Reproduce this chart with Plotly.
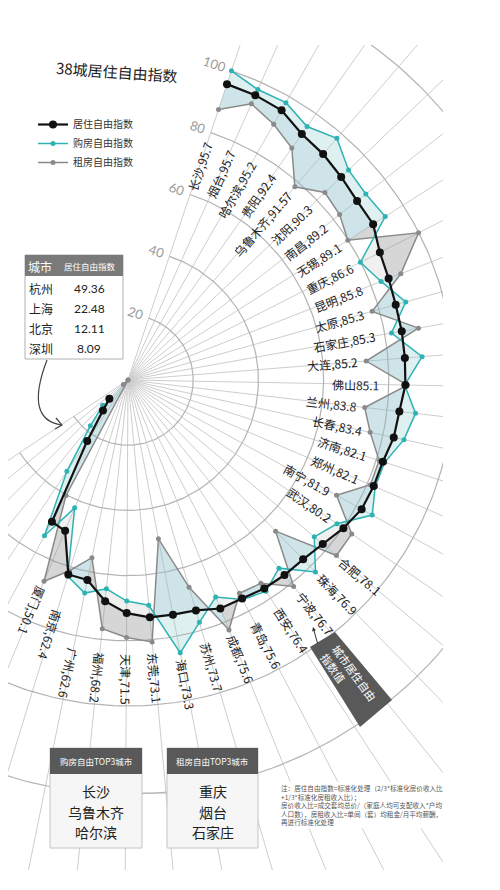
import numpy as np
import plotly.graph_objects as go

# ---- data ----
cities = ["长沙", "烟台", "哈尔滨", "贵阳", "乌鲁木齐", "沈阳", "南昌", "无锡", "重庆", "昆明",
          "太原", "石家庄", "大连", "佛山", "兰州", "长春", "济南", "郑州", "南宁", "武汉",
          "合肥", "珠海", "宁波", "西安", "青岛", "成都", "苏州", "海口", "东莞", "天津",
          "福州", "广州", "南京", "厦门", "杭州", "上海", "北京", "深圳"]
live_idx = [95.7, 95.7, 95.2, 92.4, 91.57, 90.3, 89.2, 89.1, 86.6, 85.8,
            85.3, 85.3, 85.2, 85.1, 83.8, 83.4, 82.1, 82.1, 81.9, 80.2,
            78.1, 76.9, 76.7, 76.4, 75.6, 75.6, 73.7, 73.3, 73.1, 71.5,
            68.2, 62.6, 62.4, 50.1, 49.36, 22.48, 12.11, 8.09]
buy_idx = [100.0, 97.6, 97.9, 95.2, 98.0, 93.4, 92.6, 93.5, 79.9, 83.3,
           88.5, 82.1, 90.5, 84.9, 88.8, 86.6, 82.7, 82.6, 85.6, 77.8,
           74.7, 82.3, 74.0, 77.4, 76.0, 71.8, 77.5, 85.2, 69.4, 67.8,
           64.4, 66.7, 63.0, 42.5, 54.2, 33.7, 18.2, 11.0]
rent_idx = [87.5, 92.8, 90.3, 87.1, 78.3, 83.4, 82.4, 79.9, 99.9, 89.8,
            77.8, 90.5, 73.3, 85.7, 73.1, 76.0, 80.9, 81.0, 73.1, 83.3,
            83.6, 64.8, 81.2, 74.5, 73.8, 82.7, 66.3, 49.6, 80.7, 79.0,
            76.7, 55.6, 61.2, 66.9, 40.2, 0.0, 0.0, 2.0]
radial_ticks = [20, 40, 60, 80, 100]
buy_top3 = ["长沙", "乌鲁木齐", "哈尔滨"]
rent_top3 = ["重庆", "烟台", "石家庄"]
n_inner_labels = 20      # 长沙 .. 武汉 labelled inside the ring
n_labelled = 34          # last four cities go into the table instead

# ---- geometry / style (page pixels; the page body has an 8px margin) ----
OFF = 8
FIG_W, FIG_H = 500 - OFF, 890 - OFF
THETA0, STEP = 18.5, 5.58          # degrees clockwise from north
SCALE = 3.26                        # px per index point
CX, CY = 128, 380                   # centre
CLIP_R, CLIP_T, CLIP_B = 443, 45, 870
CJK = "Noto Sans CJK SC"
TEAL = "#2fb2b4"
GREY = "#8a8a8a"

n = len(cities)
theta = THETA0 + STEP * np.arange(n)
live = np.array(live_idx)
buy = np.array(buy_idx)
rent = np.array(rent_idx)


def to_xy(r, deg):
    t = np.deg2rad(deg)
    return np.asarray(r) * np.sin(t), np.asarray(r) * np.cos(t)


def px(x):
    return (x - OFF) / (CLIP_R - OFF)


def py(y):
    return (CLIP_B - y) / (CLIP_B - CLIP_T)


def text_len(s, fs):
    w = 0.0
    for ch in s:
        if ord(ch) > 0x2E80:
            w += 1.0
        elif ch in ",.":
            w += 0.28
        else:
            w += 0.56
    return w * fs / SCALE


def note(x, y, text, size, color, family=CJK, **kw):
    d = dict(x=px(x), y=py(y), xref="paper", yref="paper", text=text, showarrow=False,
             xanchor="center", yanchor="middle", font=dict(family=family, size=size, color=color))
    d.update(kw)
    return d


fig = go.Figure()

# grid: spokes and arcs
spoke_deg = THETA0 + STEP * np.arange(n + 2)
sx, sy = [], []
for d in spoke_deg:
    x, y = to_xy([0, 220], d)
    sx += list(x) + [None]
    sy += list(y) + [None]
fig.add_trace(go.Scatter(x=sx, y=sy, mode="lines", line=dict(color="#cdcdcd", width=1),
                         hoverinfo="skip", showlegend=False))
ax_, ay_ = [], []
arc_deg = np.linspace(spoke_deg[0], spoke_deg[-1], 200)
for r in radial_ticks + [127]:
    x, y = to_xy(np.full(arc_deg.size, r), arc_deg)
    ax_ += list(x) + [None]
    ay_ += list(y) + [None]
fig.add_trace(go.Scatter(x=ax_, y=ay_, mode="lines", line=dict(color="#b3b3b3", width=1.2),
                         hoverinfo="skip", showlegend=False))


# shaded bands between series, one quad per segment
def bands(r_a, r_b, outside_color, inside_color):
    groups = {outside_color: ([], []), inside_color: ([], [])}
    xa, ya = to_xy(r_a, theta)
    xb, yb = to_xy(r_b, theta)
    for i in range(n - 1):
        c = inside_color if (r_a[i] + r_a[i + 1]) < (r_b[i] + r_b[i + 1]) else outside_color
        gx, gy = groups[c]
        gx += [xa[i], xa[i + 1], xb[i + 1], xb[i], xa[i], None]
        gy += [ya[i], ya[i + 1], yb[i + 1], yb[i], ya[i], None]
    for c, (gx, gy) in groups.items():
        fig.add_trace(go.Scatter(x=gx, y=gy, mode="lines", fill="toself", fillcolor=c,
                                 line=dict(width=0), hoverinfo="skip", showlegend=False))


bands(rent, live, "rgba(140,140,140,0.36)", "rgba(140,190,200,0.42)")
bands(buy, live, "rgba(150,205,210,0.30)", "rgba(170,170,170,0.18)")

# series lines
for vals, name, color, width, size, rank in [
    (rent, "租房自由指数", GREY, 1.5, 5, 3),
    (buy, "购房自由指数", TEAL, 1.5, 5, 2),
    (live, "居住自由指数", "#111111", 2.2, 8, 1),
]:
    x, y = to_xy(vals, theta)
    fig.add_trace(go.Scatter(x=x, y=y, mode="lines+markers", name=name, legendrank=rank,
                             line=dict(color=color, width=width),
                             marker=dict(color=color, size=size),
                             hoverinfo="skip"))

annotations = []

# city labels along the spokes
for i in range(n_labelled):
    sep = "" if cities[i] == "佛山" else ","
    txt = f"{cities[i]}{sep}{live_idx[i]}"
    L = text_len(txt, 12)
    lo = min(live[i], buy[i], rent[i])
    hi = max(live[i], buy[i], rent[i])
    if i < n_inner_labels:
        rc = min(lo - 2.5, 77) - L / 2
    else:
        rc = max(hi + 2, 84 - 10 * max(0, i - 31)) + L / 2
    x, y = to_xy(rc, theta[i])
    annotations.append(dict(x=float(x), y=float(y), xref="x", yref="y", text=txt,
                            showarrow=False, textangle=theta[i] - 90,
                            xanchor="center", yanchor="middle",
                            font=dict(family=CJK, size=12, color="#222")))

# radial tick labels beside the first spoke
t0 = np.deg2rad(THETA0)
for v in radial_ticks:
    off = 5.5 if v == 100 else 4.2
    x, y = to_xy(v + 0.3, THETA0)
    x -= off * np.cos(t0)
    y += off * np.sin(t0)
    annotations.append(dict(x=float(x), y=float(y), xref="x", yref="y", text=str(v),
                            showarrow=False, textangle=THETA0,
                            xanchor="center", yanchor="middle",
                            font=dict(family="Lato", size=13, color="#9a9a9a")))

# title
annotations.append(note(117, 72, "38城居住自由指数", 15, "#222", textangle=4))

shapes = []

# table of the four lowest cities
shapes.append(dict(type="rect", xref="paper", yref="paper", x0=px(25), x1=px(123), y0=py(255),
                   y1=py(359), fillcolor="white", line=dict(color="#b0b0b0", width=1), layer="above"))
shapes.append(dict(type="rect", xref="paper", yref="paper", x0=px(25), x1=px(123), y0=py(255),
                   y1=py(276), fillcolor="#7a7a7a", line=dict(width=0), layer="above"))
annotations.append(note(40, 266, "城市", 12, "white"))
annotations.append(note(90, 266, "居住自由指数", 8.5, "white"))
for k, i in enumerate(range(n_labelled, n)):
    yy = 288 + 20 * k
    annotations.append(note(41, yy, cities[i], 12, "#222"))
    annotations.append(note(89, yy, str(live_idx[i]), 12, "#222", family="Lato"))

# curved arrow from table towards the centre
shapes.append(dict(type="path", xref="paper", yref="paper",
                   path=f"M {px(47)} {py(360)} Q {px(24)} {py(420)} {px(62)} {py(425)}",
                   line=dict(color="#444", width=1.2), layer="above"))
shapes.append(dict(type="path", xref="paper", yref="paper",
                   path=f"M {px(56)} {py(418)} L {px(62)} {py(425)} L {px(55)} {py(429)}",
                   line=dict(color="#444", width=1.2), layer="above"))

# dark tag "城市居住自由指数值"
shapes.append(dict(type="path", xref="paper", yref="paper",
                   path=(f"M {px(310)} {py(647)} L {px(335)} {py(632)} "
                         f"L {px(392)} {py(700)} L {px(360)} {py(727)} Z"),
                   fillcolor="#595959", line=dict(width=0), layer="above"))
annotations.append(note(349, 677, "城市居住自由<br>指数值", 11, "white", align="left", textangle=54))
annotations.append(dict(x=px(313), y=py(627), xref="paper", yref="paper", text="",
                        showarrow=True, ax=5, ay=18, arrowhead=2, arrowsize=0.8,
                        arrowwidth=1, arrowcolor="#333"))

# TOP3 boxes
for x0, x1, title, names in [(50, 142, "购房自由TOP3城市", buy_top3),
                             (167, 258, "租房自由TOP3城市", rent_top3)]:
    shapes.append(dict(type="rect", xref="paper", yref="paper", x0=px(x0), x1=px(x1),
                       y0=py(748), y1=py(848), fillcolor="#f6f6f6",
                       line=dict(color="#c4c4c4", width=1), layer="above"))
    shapes.append(dict(type="rect", xref="paper", yref="paper", x0=px(x0), x1=px(x1),
                       y0=py(748), y1=py(774), fillcolor="#595959", line=dict(width=0),
                       layer="above"))
    xc = (x0 + x1) / 2
    annotations.append(note(xc, 761, title, 8.5, "white"))
    for k, name in enumerate(names):
        annotations.append(note(xc, 791 + 20.5 * k, name, 14, "#222"))
shapes.append(dict(type="line", xref="paper", yref="paper", x0=px(142), x1=px(167),
                   y0=py(793), y1=py(793), line=dict(color="#bdbdbd", width=1.2), layer="above"))

# footnote
foot = ("注：居住自由指数=标准化处理（2/3*标准化房价收入比<br>"
        "+1/3*标准化房租收入比）；<br>"
        "房价收入比=成交套均总价/（家庭人均可支配收入*户均<br>"
        "人口数），房租收入比=单间（套）均租金/月平均薪酬，<br>"
        "再进行标准化处理")
annotations.append(note(279, 805, foot, 6.6, "#555", xanchor="left", align="left", bgcolor="white"))

fig.update_layout(
    width=FIG_W, height=FIG_H,
    margin=dict(l=0, r=500 - CLIP_R, t=CLIP_T - OFF, b=890 - CLIP_B),
    paper_bgcolor="white", plot_bgcolor="white",
    xaxis=dict(range=[(OFF - CX) / SCALE, (CLIP_R - CX) / SCALE], visible=False, fixedrange=True),
    yaxis=dict(range=[-(CLIP_B - CY) / SCALE, (CY - CLIP_T) / SCALE], visible=False,
               fixedrange=True),
    legend=dict(x=px(33), y=py(110), xanchor="left", yanchor="top",
                bgcolor="rgba(0,0,0,0)", font=dict(family=CJK, size=10, color="#333"),
                itemwidth=30),
    annotations=annotations,
    shapes=shapes,
)

fig.write_html("out.html")
